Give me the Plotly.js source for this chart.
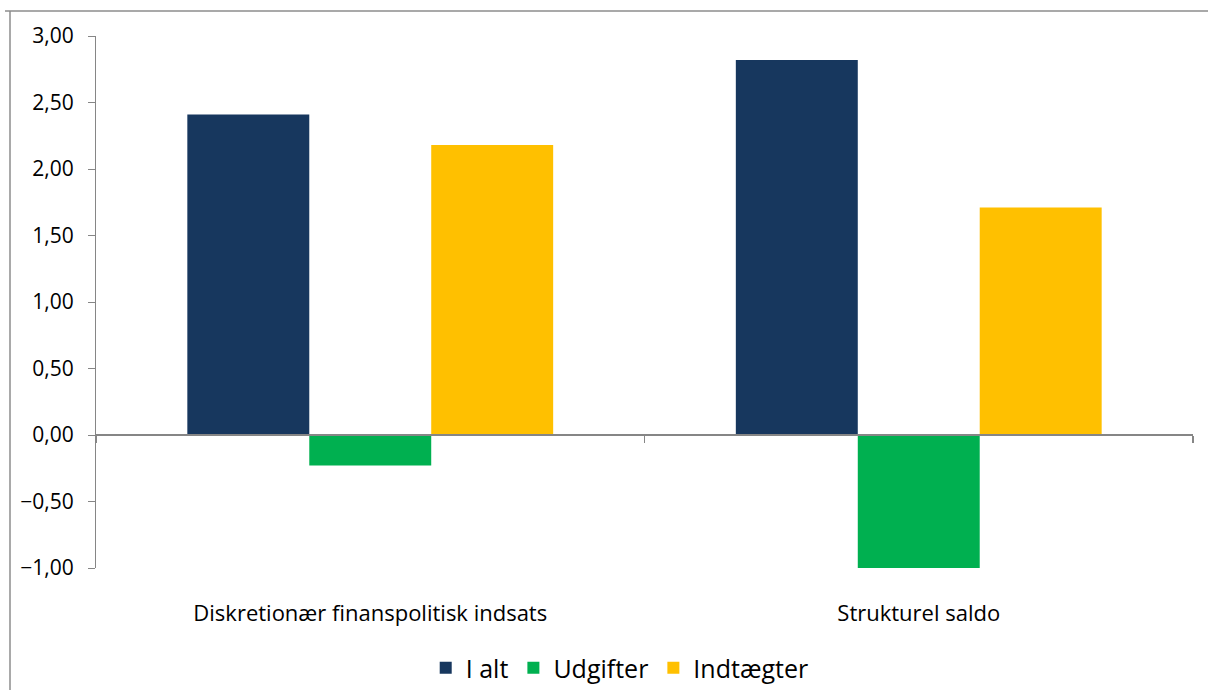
<!DOCTYPE html>
<html><head><meta charset="utf-8">
<script src="https://cdn.plot.ly/plotly-3.0.1.min.js"></script>
<style>html,body{margin:0;padding:0;background:#fff;}#chart{width:1208px;height:690px;}</style>
</head><body><div id="chart"></div>
<script>
const categories = ["Diskretionær finanspolitisk indsats", "Strukturel saldo"];
const seriesNames = ["I alt", "Udgifter", "Indtægter"];
const iAlt = [2.41, 2.82];
const udgifter = [-0.23, -1.01];
const indtaegter = [2.18, 1.71];
const yTicks = [-1, -0.5, 0, 0.5, 1, 1.5, 2, 2.5, 3];

const colors = ["#17375E", "#00B050", "#FFC000"];
const vals = [iAlt, udgifter, indtaegter];
const font = "'Open Sans', sans-serif";

const data = vals.map((v, i) => ({
  type: "bar", name: seriesNames[i], x: categories, y: v,
  marker: {color: colors[i], line: {width: 0}}, hoverinfo: "x+y+name"
}));
// invisible helper trace so the zero-crossing category axis is drawn
data.push({type: "scatter", mode: "markers", x: categories, y: [0, 0],
  xaxis: "x2", yaxis: "y", marker: {opacity: 0}, showlegend: false, hoverinfo: "skip"});

const W = 1097, H = 532;
const layout = {
  width: 1208, height: 690,
  margin: {l: 96, r: 15, t: 36, b: 122, autoexpand: false},
  paper_bgcolor: "#fff", plot_bgcolor: "#fff",
  separators: ",.",
  barmode: "group", bargap: 0.333, bargroupgap: 0,
  font: {family: font, color: "#000"},
  showlegend: true,
  legend: {orientation: "h", x: 0.4774, xanchor: "center", y: -0.188, yanchor: "middle",
           font: {size: 25, family: font}, itemwidth: 30, traceorder: "normal"},
  xaxis: {type: "category", categoryarray: categories, showline: false, showgrid: false,
          zeroline: false, ticks: "outside", ticklen: 26, tickcolor: "rgba(0,0,0,0)",
          tickfont: {size: 22, family: font}},
  xaxis2: {type: "category", categoryarray: categories, matches: "x", overlaying: "x",
           anchor: "free", position: 0.25, showline: true, linecolor: "#868686", linewidth: 2,
           showgrid: false, zeroline: false, ticks: "outside", tickson: "boundaries",
           ticklen: 7, tickcolor: "#868686", tickwidth: 1.5, showticklabels: false},
  yaxis: {range: [-1, 3], tickvals: yTicks, tickformat: ".2f", showline: true,
          linecolor: "#868686", linewidth: 1, showgrid: false, zeroline: false,
          ticks: "outside", ticklen: 7, tickcolor: "#868686", tickwidth: 1,
          ticklabelstandoff: 10, tickfont: {size: 21, family: font}},
  shapes: [
    {type: "line", xref: "paper", yref: "paper", x0: (5-96)/W, x1: (1215-96)/W,
     y0: (568-11)/H, y1: (568-11)/H, line: {color: "#8c8c8c", width: 1.5}},
    {type: "line", xref: "paper", yref: "paper", x0: (10-96)/W, x1: (10-96)/W,
     y0: (568-11)/H, y1: (568-700)/H, line: {color: "#8c8c8c", width: 1.5}}
  ]
};

Plotly.newPlot("chart", data, layout, {displayModeBar: false, staticPlot: true});
</script></body></html>
